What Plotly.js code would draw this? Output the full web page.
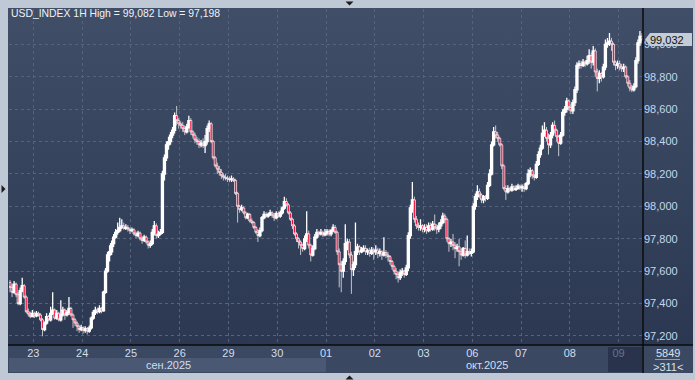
<!DOCTYPE html>
<html>
<head>
<meta charset="utf-8">
<script src="https://cdn.plot.ly/plotly-3.0.1.min.js"></script>
<style>
  html, body { margin:0; padding:0; background:#bfc9d5; width:695px; height:380px; overflow:hidden; }
  #bg { position:absolute; left:8px; top:8px; width:685px; height:365px;
        background:linear-gradient(180deg, #404e68 0%, #2a3650 100%); }
  #chart { position:absolute; left:0; top:0; width:695px; height:380px; }
</style>
</head>
<body>
<div id="bg"></div>
<div id="chart"></div>
<script>
// ---- hourly candles, 22 Sep 12:00 .. 09 Oct 11:00 ----
const openPx = [
// Sep 22
97.530,97.500,97.470,97.520,97.455,97.400,97.480,97.510,97.440,97.350,97.335,97.320,
// Sep 23
97.340,97.325,97.340,97.330,97.300,97.240,97.280,97.320,97.300,97.340,97.360,97.310,97.340,97.300,97.330,97.360,97.330,97.345,97.370,97.330,97.300,97.280,97.260,97.240,
// Sep 24
97.250,97.235,97.245,97.230,97.250,97.310,97.345,97.360,97.350,97.370,97.355,97.470,97.600,97.700,97.720,97.770,97.810,97.840,97.850,97.870,97.880,97.865,97.870,97.860,
// Sep 25
97.850,97.855,97.830,97.820,97.835,97.800,97.790,97.810,97.780,97.760,97.770,97.840,97.880,97.820,97.830,97.840,98.200,98.300,98.380,98.400,98.440,98.470,98.560,98.530,
// Sep 26
98.510,98.500,98.480,98.460,98.490,98.530,98.460,98.440,98.410,98.400,98.380,98.390,98.375,98.400,98.480,98.510,98.400,98.300,98.250,98.230,98.210,98.190,98.180,98.175,
// Sep 29
98.170,98.165,98.170,98.160,98.080,98.000,97.980,97.990,97.960,97.930,97.950,97.910,97.900,97.870,97.840,97.820,97.850,97.930,97.950,97.940,97.950,97.960,97.945,97.930,
// Sep 30
97.955,97.940,97.960,97.990,98.030,98.010,97.960,97.920,97.880,97.830,97.800,97.780,97.760,97.740,97.800,97.830,97.760,97.700,97.740,97.810,97.840,97.830,97.840,97.825,
// Oct 01
97.835,97.845,97.830,97.850,97.870,97.840,97.720,97.640,97.600,97.660,97.770,97.780,97.700,97.610,97.640,97.720,97.750,97.720,97.730,97.740,97.720,97.725,97.710,97.730,
// Oct 02
97.720,97.730,97.710,97.720,97.700,97.715,97.700,97.690,97.660,97.630,97.600,97.580,97.560,97.590,97.600,97.580,97.620,97.820,97.990,98.040,97.920,97.880,97.870,97.880,
// Oct 03
97.860,97.870,97.850,97.880,97.860,97.890,97.870,97.860,97.880,97.900,97.940,97.920,97.800,97.770,97.780,97.760,97.740,97.750,97.720,97.700,97.740,97.700,97.720,97.710,
// Oct 06
97.720,98.000,98.060,98.090,98.070,98.040,98.060,98.050,98.130,98.200,98.380,98.460,98.440,98.420,98.380,98.250,98.110,98.090,98.110,98.100,98.120,98.105,98.110,98.125,
// Oct 07
98.115,98.120,98.110,98.140,98.200,98.220,98.190,98.180,98.260,98.320,98.360,98.450,98.470,98.420,98.380,98.440,98.500,98.470,98.430,98.390,98.440,98.580,98.600,98.650,
// Oct 08
98.610,98.590,98.640,98.720,98.870,98.880,98.870,98.890,98.880,98.900,98.930,98.890,98.960,98.830,98.790,98.820,98.800,98.860,99.000,99.010,99.020,99.000,98.890,98.870,
// Oct 09
98.880,98.860,98.850,98.860,98.800,98.760,98.730,98.720,98.740,98.900,99.010,99.050
];
const highPx = [
97.545,97.520,97.540,97.530,97.470,97.500,97.560,97.520,97.450,97.370,97.350,97.360,
97.350,97.355,97.350,97.340,97.310,97.290,97.340,97.330,97.380,97.470,97.370,97.360,97.350,97.420,97.380,97.370,97.360,97.440,97.380,97.340,97.310,97.290,97.270,97.270,
97.260,97.260,97.255,97.265,97.320,97.360,97.380,97.375,97.390,97.380,97.480,97.620,97.720,97.760,97.790,97.830,97.860,97.900,97.930,97.920,97.900,97.890,97.885,97.870,
97.870,97.865,97.845,97.850,97.845,97.815,97.825,97.820,97.790,97.790,97.860,97.910,97.895,97.850,97.860,98.220,98.320,98.400,98.430,98.460,98.490,98.580,98.620,98.545,
98.525,98.520,98.500,98.510,98.560,98.545,98.470,98.455,98.430,98.420,98.410,98.420,98.440,98.500,98.530,98.520,98.410,98.310,98.270,98.250,98.230,98.205,98.200,98.190,
98.185,98.190,98.180,98.170,98.090,98.010,98.010,98.000,97.970,97.960,97.960,97.925,97.910,97.880,97.860,97.870,97.940,97.970,97.965,97.960,97.980,97.970,97.960,97.970,
97.970,97.975,98.000,98.060,98.050,98.020,97.970,97.930,97.890,97.840,97.810,97.790,97.770,97.820,97.970,97.850,97.770,97.760,97.830,97.860,97.850,97.860,97.850,97.860,
97.860,97.860,97.860,97.890,97.885,97.850,97.740,97.660,97.680,97.890,97.800,97.800,97.720,97.660,97.900,97.770,97.760,97.750,97.760,97.760,97.740,97.745,97.750,97.745,
97.760,97.745,97.740,97.730,97.810,97.730,97.720,97.700,97.670,97.640,97.620,97.600,97.610,97.620,97.610,97.640,97.840,98.010,98.150,98.060,97.940,97.900,97.920,97.890,
97.890,97.890,97.900,97.900,97.910,97.950,97.890,97.900,97.920,97.960,97.955,97.930,97.810,97.800,97.830,97.780,97.770,97.800,97.740,97.750,97.790,97.820,97.740,97.740,
98.020,98.080,98.130,98.110,98.080,98.070,98.070,98.150,98.230,98.400,98.490,98.500,98.460,98.430,98.390,98.260,98.130,98.130,98.120,98.140,98.130,98.130,98.140,98.135,
98.135,98.140,98.150,98.230,98.240,98.230,98.200,98.280,98.340,98.380,98.500,98.520,98.490,98.450,98.460,98.520,98.530,98.480,98.440,98.460,98.600,98.620,98.670,98.660,
98.630,98.660,98.740,98.890,98.900,98.900,98.910,98.900,98.930,98.970,98.950,98.990,98.975,98.850,98.840,98.830,98.880,99.030,99.040,99.070,99.040,99.010,98.900,98.900,
98.900,98.880,98.880,98.870,98.810,98.780,98.750,98.760,98.920,99.030,99.082,99.070
];
const lowPx = [
97.470,97.440,97.460,97.440,97.390,97.390,97.470,97.430,97.340,97.320,97.310,97.315,
97.310,97.315,97.320,97.290,97.198,97.230,97.270,97.290,97.290,97.330,97.300,97.300,97.290,97.290,97.320,97.300,97.320,97.330,97.320,97.250,97.260,97.230,97.220,97.230,
97.215,97.220,97.210,97.220,97.240,97.300,97.330,97.335,97.340,97.340,97.350,97.460,97.590,97.660,97.700,97.750,97.800,97.825,97.840,97.860,97.855,97.855,97.845,97.830,
97.840,97.820,97.805,97.810,97.790,97.770,97.780,97.770,97.740,97.745,97.760,97.820,97.800,97.805,97.820,97.830,98.160,98.280,98.350,98.380,98.420,98.450,98.500,98.480,
98.480,98.460,98.440,98.450,98.480,98.440,98.420,98.390,98.380,98.360,98.365,98.360,98.330,98.380,98.460,98.390,98.290,98.240,98.200,98.190,98.170,98.160,98.160,98.150,
98.150,98.150,98.150,98.070,97.900,97.960,97.970,97.950,97.920,97.920,97.900,97.890,97.860,97.830,97.780,97.810,97.840,97.920,97.930,97.930,97.940,97.930,97.910,97.920,
97.930,97.930,97.950,97.980,98.000,97.950,97.910,97.860,97.820,97.780,97.740,97.700,97.720,97.730,97.780,97.740,97.660,97.690,97.730,97.800,97.815,97.820,97.810,97.815,
97.820,97.815,97.815,97.840,97.830,97.700,97.500,97.470,97.560,97.640,97.730,97.680,97.460,97.570,97.620,97.700,97.700,97.710,97.720,97.700,97.700,97.690,97.700,97.670,
97.700,97.680,97.690,97.670,97.690,97.680,97.660,97.640,97.610,97.580,97.550,97.530,97.545,97.570,97.560,97.570,97.600,97.800,97.960,97.900,97.860,97.850,97.850,97.840,
97.840,97.830,97.840,97.845,97.850,97.850,97.830,97.840,97.860,97.890,97.900,97.780,97.720,97.750,97.730,97.680,97.720,97.630,97.670,97.690,97.680,97.690,97.700,97.690,
97.710,97.980,98.040,98.050,98.020,98.020,98.030,98.040,98.120,98.190,98.370,98.420,98.400,98.370,98.230,98.100,98.040,98.080,98.090,98.090,98.095,98.095,98.105,98.100,
98.090,98.090,98.100,98.130,98.180,98.170,98.160,98.170,98.250,98.300,98.350,98.430,98.400,98.320,98.360,98.420,98.450,98.400,98.310,98.380,98.430,98.560,98.580,98.590,
98.570,98.570,98.620,98.700,98.850,98.850,98.860,98.860,98.870,98.880,98.850,98.870,98.800,98.710,98.760,98.770,98.790,98.840,98.980,98.990,98.960,98.870,98.840,98.850,
98.840,98.830,98.830,98.790,98.740,98.710,98.705,98.710,98.730,98.880,98.990,99.020
];
const closePx = [
97.500,97.470,97.520,97.455,97.400,97.480,97.510,97.440,97.350,97.335,97.320,97.340,
97.325,97.340,97.330,97.300,97.240,97.280,97.320,97.300,97.340,97.360,97.310,97.340,97.300,97.330,97.360,97.330,97.345,97.370,97.330,97.300,97.280,97.260,97.240,97.250,
97.235,97.245,97.230,97.250,97.310,97.345,97.360,97.350,97.370,97.355,97.470,97.600,97.700,97.720,97.770,97.810,97.840,97.850,97.870,97.880,97.865,97.870,97.860,97.850,
97.855,97.830,97.820,97.835,97.800,97.790,97.810,97.780,97.760,97.770,97.840,97.880,97.820,97.830,97.840,98.200,98.300,98.380,98.400,98.440,98.470,98.560,98.530,98.510,
98.500,98.480,98.460,98.490,98.530,98.460,98.440,98.410,98.400,98.380,98.390,98.375,98.400,98.480,98.510,98.400,98.300,98.250,98.230,98.210,98.190,98.180,98.175,98.170,
98.165,98.170,98.160,98.080,98.000,97.980,97.990,97.960,97.930,97.950,97.910,97.900,97.870,97.840,97.820,97.850,97.930,97.950,97.940,97.950,97.960,97.945,97.930,97.955,
97.940,97.960,97.990,98.030,98.010,97.960,97.920,97.880,97.830,97.800,97.780,97.760,97.740,97.800,97.830,97.760,97.700,97.740,97.810,97.840,97.830,97.840,97.825,97.835,
97.845,97.830,97.850,97.870,97.840,97.720,97.640,97.600,97.660,97.770,97.780,97.700,97.610,97.640,97.720,97.750,97.720,97.730,97.740,97.720,97.725,97.710,97.730,97.720,
97.730,97.710,97.720,97.700,97.715,97.700,97.690,97.660,97.630,97.600,97.580,97.560,97.590,97.600,97.580,97.620,97.820,97.990,98.040,97.920,97.880,97.870,97.880,97.860,
97.870,97.850,97.880,97.860,97.890,97.870,97.860,97.880,97.900,97.940,97.920,97.800,97.770,97.780,97.760,97.740,97.750,97.720,97.700,97.740,97.700,97.720,97.710,97.720,
98.000,98.060,98.090,98.070,98.040,98.060,98.050,98.130,98.200,98.380,98.460,98.440,98.420,98.380,98.250,98.110,98.090,98.110,98.100,98.120,98.105,98.110,98.125,98.115,
98.120,98.110,98.140,98.200,98.220,98.190,98.180,98.260,98.320,98.360,98.450,98.470,98.420,98.380,98.440,98.500,98.470,98.430,98.390,98.440,98.580,98.600,98.650,98.610,
98.590,98.640,98.720,98.870,98.880,98.870,98.890,98.880,98.900,98.930,98.890,98.960,98.830,98.790,98.820,98.800,98.860,99.000,99.010,99.020,99.000,98.890,98.870,98.880,
98.860,98.850,98.860,98.800,98.760,98.730,98.720,98.740,98.900,99.010,99.050,99.032
];

// day separators (index of first hourly bar of each day) and their labels
const dayStartIdx = [12,36,60,84,108,132,156,180,204,228,252,276,300];
const dayLabels = ['23','24','25','26','29','30','01','02','03','06','07','08','09'];
const priceTicks = [97.2,97.4,97.6,97.8,98.0,98.2,98.4,98.6,98.8,99.0];
const monthLabels = ['сен.2025','окт.2025'];
const titleText = 'USD_INDEX 1H High = 99,082 Low = 97,198';
const lastPriceText = '99,032';
const barsTotal = '5849';
const barsShown = '&gt;311&lt;';

const xIdx = closePx.map((_, i) => i);
const tickText = dayLabels.map((d, k) => k === dayLabels.length - 1 ? '<span style="color:#66748b">' + d + '</span>' : d);

// pixel -> paper helpers for frame decorations (plot area: x 9..643, y 9..345)
const X = px => (px - 9) / 634;
const Y = py => (345 - py) / 336;

const trace = {
  type: 'candlestick',
  x: xIdx, open: openPx, high: highPx, low: lowPx, close: closePx,
  increasing: { line: { color: '#ffffff', width: 1.3 }, fillcolor: '#ffffff' },
  decreasing: { line: { color: '#ffffff', width: 0.7 }, fillcolor: '#f0103c' },
  whiskerwidth: 0,
  hoverinfo: 'skip',
  showlegend: false
};

const shapes = [
  // bottom date panel
  { type:'rect', xref:'paper', yref:'paper', x0:X(8), x1:X(693), y0:Y(373), y1:Y(345), fillcolor:'#3b4862', line:{width:0}, layer:'below' },
  { type:'rect', xref:'paper', yref:'paper', x0:X(9), x1:X(326), y0:Y(372), y1:Y(358), fillcolor:'#4a5873', line:{width:0}, layer:'below' },
  { type:'rect', xref:'paper', yref:'paper', x0:X(608), x1:X(642), y0:Y(372), y1:Y(347), fillcolor:'#29334b', line:{width:0}, layer:'below' },
  // separators
  { type:'line', xref:'paper', yref:'paper', x0:X(8), x1:X(693), y0:Y(345), y1:Y(345), line:{color:'#0b0b0b', width:1.5} },
  { type:'line', xref:'paper', yref:'paper', x0:X(643), x1:X(643), y0:Y(373), y1:Y(8), line:{color:'#0b0b0b', width:1.5} },
  { type:'line', xref:'paper', yref:'paper', x0:X(655), x1:X(680), y0:Y(359.5), y1:Y(359.5), line:{color:'#8fa0b8', width:1} },
  // last price tag
  { type:'path', xref:'paper', yref:'paper',
    path:`M ${X(645)},${Y(39.5)} L ${X(650)},${Y(33)} L ${X(692)},${Y(33)} L ${X(692)},${Y(46)} L ${X(650)},${Y(46)} Z`,
    fillcolor:'#c4ccd6', line:{width:0} },
  // frame arrows
  { type:'path', xref:'paper', yref:'paper', path:`M ${X(345.5)},${Y(1.5)} L ${X(353.5)},${Y(1.5)} L ${X(349.5)},${Y(5.5)} Z`, fillcolor:'#1c1c1c', line:{width:0} },
  { type:'path', xref:'paper', yref:'paper', path:`M ${X(345.5)},${Y(379.5)} L ${X(353.5)},${Y(379.5)} L ${X(349.5)},${Y(375.5)} Z`, fillcolor:'#1c1c1c', line:{width:0} },
  { type:'path', xref:'paper', yref:'paper', path:`M ${X(1.5)},${Y(185)} L ${X(1.5)},${Y(193)} L ${X(5.5)},${Y(189)} Z`, fillcolor:'#1c1c1c', line:{width:0} }
];

const annotations = [
  { xref:'paper', yref:'paper', x:X(168), y:Y(365.5), text:monthLabels[0], showarrow:false, xanchor:'center', yanchor:'middle', font:{size:11, color:'#d2deec'} },
  { xref:'paper', yref:'paper', x:X(487), y:Y(365.5), text:monthLabels[1], showarrow:false, xanchor:'center', yanchor:'middle', font:{size:11, color:'#d2deec'} },
  { xref:'paper', yref:'paper', x:X(667.5), y:Y(352.5), text:barsTotal, showarrow:false, xanchor:'center', yanchor:'middle', font:{size:11, color:'#d8e2ee'} },
  { xref:'paper', yref:'paper', x:X(667.5), y:Y(366.5), text:barsShown, showarrow:false, xanchor:'center', yanchor:'middle', font:{size:11, color:'#d8e2ee'} },
  { xref:'paper', yref:'paper', x:X(648), y:Y(39.5), text:lastPriceText, showarrow:false, xanchor:'left', yanchor:'middle', font:{size:11, color:'#101010'} }
];

const layout = {
  width: 695, height: 380,
  margin: { l: 9, r: 52, t: 9, b: 35, pad: 0 },
  paper_bgcolor: 'rgba(0,0,0,0)',
  plot_bgcolor: 'rgba(0,0,0,0)',
  separators: ', ',
  font: { family: '"Liberation Sans", Arial, sans-serif', size: 11, color: '#d2deec' },
  showlegend: false,
  boxgap: 0, boxgroupgap: 0,
  title: { text: titleText, xref: 'container', yref: 'container', x: 11/695, xanchor: 'left',
           y: 1 - 13/380, yanchor: 'middle', font: { size: 10.4, color: '#eef3f9' } },
  xaxis: {
    range: [-0.5, 311.5], rangeslider: { visible: false },
    tickmode: 'array', tickvals: dayStartIdx.map(v => v - 0.5), ticktext: tickText,
    ticks: '', ticklen: 0, showgrid: true, gridcolor: '#56637c', griddash: '3px,3px', gridwidth: 1,
    zeroline: false, showline: false, tickfont: { size: 11, color: '#d2deec' }, fixedrange: true
  },
  yaxis: {
    side: 'right', range: [97.1444, 99.2185],
    tickmode: 'array', tickvals: priceTicks, tickformat: '.3f',
    ticks: '', ticklen: 0, showgrid: true, gridcolor: '#56637c', griddash: '3px,3px', gridwidth: 1,
    zeroline: false, showline: false, tickfont: { size: 11, color: '#c4d7ee' }, fixedrange: true
  },
  shapes: shapes,
  annotations: annotations
};

Plotly.newPlot('chart', [trace], layout, { staticPlot: true, displayModeBar: false });
</script>
</body>
</html>
